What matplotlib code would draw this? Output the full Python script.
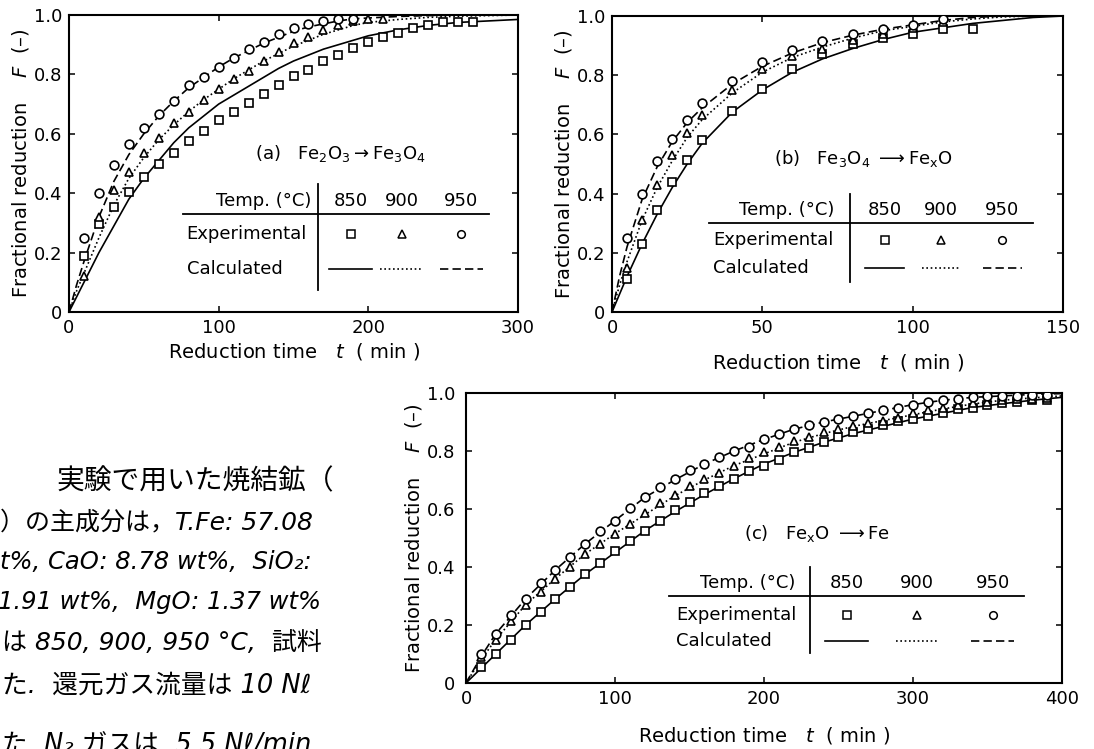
import matplotlib
matplotlib.use("Agg")
import matplotlib.pyplot as plt

plt.rcParams['font.family'] = ['DejaVu Sans']
plt.rcParams['mathtext.fontset'] = 'dejavusans'

TEMPS = ['850', '900', '950']
Y_TICKS = [0, 0.2, 0.4, 0.6, 0.8, 1.0]
Y_LABELS = ['0', '0.2', '0.4', '0.6', '0.8', '1.0']

# (a) Fe2O3 -> Fe3O4, experimental points
a_t_sq = [10, 20, 30, 40, 50, 60, 70, 80, 90, 100, 110, 120, 130, 140, 150, 160, 170, 180,
          190, 200, 210, 220, 230, 240, 250, 260, 270]
a_f_sq = [0.19, 0.295, 0.355, 0.405, 0.455, 0.50, 0.535, 0.575, 0.61, 0.645, 0.675, 0.705,
          0.735, 0.765, 0.795, 0.815, 0.845, 0.865, 0.89, 0.91, 0.925, 0.94, 0.955, 0.965,
          0.975, 0.975, 0.975]
a_t_tri = [10, 20, 30, 40, 50, 60, 70, 80, 90, 100, 110, 120, 130, 140, 150, 160, 170, 180,
           190, 200, 210]
a_f_tri = [0.12, 0.32, 0.41, 0.47, 0.535, 0.585, 0.635, 0.675, 0.715, 0.75, 0.785, 0.81,
           0.845, 0.875, 0.905, 0.925, 0.95, 0.965, 0.98, 0.985, 0.985]
a_t_ci = [10, 20, 30, 40, 50, 60, 70, 80, 90, 100, 110, 120, 130, 140, 150, 160, 170, 180, 190]
a_f_ci = [0.25, 0.40, 0.495, 0.565, 0.62, 0.665, 0.71, 0.765, 0.79, 0.825, 0.855, 0.885,
          0.91, 0.935, 0.955, 0.97, 0.98, 0.985, 0.985]
# (a) calculated curves
a_t_calc = [0, 5, 10, 20, 30, 40, 50, 60, 70, 80, 90, 100, 110, 120, 130, 140, 150, 160,
            170, 180, 190, 200, 220, 240, 260, 280, 300]
a_f_850 = [0, 0.05, 0.10, 0.20, 0.29, 0.38, 0.45, 0.51, 0.57, 0.62, 0.66, 0.70, 0.73, 0.76,
           0.79, 0.82, 0.845, 0.865, 0.885, 0.90, 0.915, 0.93, 0.95, 0.965, 0.975, 0.98, 0.985]
a_f_900 = [0, 0.07, 0.13, 0.25, 0.36, 0.45, 0.52, 0.58, 0.63, 0.675, 0.715, 0.75, 0.785,
           0.815, 0.845, 0.87, 0.895, 0.915, 0.935, 0.95, 0.965, 0.975, 0.985, 0.992, 0.996,
           0.998, 1.0]
a_f_950 = [0, 0.09, 0.17, 0.32, 0.44, 0.53, 0.60, 0.66, 0.71, 0.755, 0.79, 0.825, 0.855,
           0.88, 0.905, 0.925, 0.945, 0.96, 0.97, 0.98, 0.987, 0.99, 0.995, 0.998, 1.0, 1.0, 1.0]

# (b) Fe3O4 -> FexO
b_t_sq = [5, 10, 15, 20, 25, 30, 40, 50, 60, 70, 80, 90, 100, 110, 120]
b_f_sq = [0.11, 0.23, 0.345, 0.44, 0.515, 0.58, 0.68, 0.755, 0.82, 0.87, 0.905, 0.925,
          0.94, 0.955, 0.955]
b_t_tri = [5, 10, 15, 20, 25, 30, 40, 50, 60, 70, 80, 90, 100, 110]
b_f_tri = [0.15, 0.31, 0.43, 0.53, 0.605, 0.665, 0.75, 0.82, 0.865, 0.89, 0.92, 0.94, 0.96, 0.98]
b_t_ci = [5, 10, 15, 20, 25, 30, 40, 50, 60, 70, 80, 90, 100, 110]
b_f_ci = [0.25, 0.40, 0.51, 0.585, 0.65, 0.705, 0.78, 0.845, 0.885, 0.915, 0.94, 0.955,
          0.97, 0.99]
b_t_calc = [0, 2.5, 5, 10, 15, 20, 25, 30, 40, 50, 60, 70, 80, 90, 100, 110, 120, 130, 140, 150]
b_f_850 = [0, 0.06, 0.12, 0.23, 0.33, 0.42, 0.50, 0.57, 0.675, 0.75, 0.81, 0.855, 0.89,
           0.92, 0.945, 0.96, 0.975, 0.985, 0.995, 1.0]
b_f_900 = [0, 0.09, 0.17, 0.31, 0.42, 0.51, 0.59, 0.65, 0.74, 0.81, 0.86, 0.895, 0.925,
           0.95, 0.965, 0.98, 0.99, 0.997, 1.0, 1.0]
b_f_950 = [0, 0.12, 0.22, 0.38, 0.49, 0.575, 0.64, 0.69, 0.77, 0.83, 0.875, 0.91, 0.935,
           0.955, 0.97, 0.985, 0.995, 1.0, 1.0, 1.0]

# (c) FexO -> Fe
c_t_exp = [10, 20, 30, 40, 50, 60, 70, 80, 90, 100, 110, 120, 130, 140, 150, 160, 170, 180,
           190, 200, 210, 220, 230, 240, 250, 260, 270, 280, 290, 300, 310, 320, 330, 340,
           350, 360, 370, 380, 390]
c_f_sq = [0.055, 0.10, 0.15, 0.20, 0.245, 0.29, 0.33, 0.375, 0.415, 0.455, 0.49, 0.525,
          0.56, 0.595, 0.625, 0.655, 0.68, 0.705, 0.73, 0.75, 0.77, 0.795, 0.81, 0.83, 0.85,
          0.865, 0.875, 0.89, 0.905, 0.91, 0.92, 0.93, 0.945, 0.95, 0.96, 0.965, 0.97,
          0.975, 0.975]
c_f_tri = [0.09, 0.15, 0.215, 0.27, 0.315, 0.36, 0.40, 0.445, 0.48, 0.515, 0.55, 0.585,
           0.62, 0.65, 0.68, 0.705, 0.725, 0.75, 0.775, 0.795, 0.815, 0.835, 0.85, 0.865,
           0.875, 0.885, 0.895, 0.905, 0.915, 0.93, 0.94, 0.95, 0.96, 0.965, 0.97, 0.975,
           0.978, 0.98, 0.982]
c_f_ci = [0.10, 0.17, 0.235, 0.29, 0.345, 0.39, 0.435, 0.48, 0.525, 0.56, 0.605, 0.64,
          0.675, 0.705, 0.735, 0.755, 0.78, 0.80, 0.815, 0.84, 0.86, 0.875, 0.89, 0.90,
          0.91, 0.92, 0.93, 0.94, 0.95, 0.96, 0.97, 0.975, 0.98, 0.985, 0.988, 0.99, 0.99,
          0.992, 0.993]
c_t_calc = [0, 10, 20, 40, 60, 80, 100, 120, 140, 160, 180, 200, 220, 240, 260, 280, 300,
            320, 340, 360, 380, 400]
c_f_850 = [0, 0.05, 0.10, 0.20, 0.29, 0.375, 0.45, 0.525, 0.59, 0.65, 0.705, 0.755, 0.795,
           0.83, 0.86, 0.885, 0.91, 0.93, 0.95, 0.963, 0.975, 0.985]
c_f_900 = [0, 0.08, 0.15, 0.27, 0.36, 0.445, 0.515, 0.58, 0.645, 0.70, 0.75, 0.79, 0.83,
           0.86, 0.885, 0.905, 0.925, 0.945, 0.962, 0.975, 0.983, 0.99]
c_f_950 = [0, 0.09, 0.17, 0.29, 0.39, 0.48, 0.56, 0.64, 0.70, 0.755, 0.80, 0.84, 0.875,
           0.90, 0.92, 0.94, 0.96, 0.975, 0.985, 0.99, 0.995, 0.998]

JP_LINES = ['実験で用いた焼結鉱（',
            '）の主成分は，T.Fe: 57.08',
            't%, CaO: 8.78 wt%,  SiO₂:',
            '1.91 wt%,  MgO: 1.37 wt%',
            'は 850, 900, 950 °C,  試料',
            'た.  還元ガス流量は 10 Nℓ',
            'た  N₂ ガスは  5.5 Nℓ/min']

MARKERS = ['s', '^', 'o']
LINES = ['-', (0, (1, 1.6)), (0, (5, 2.5))]

W, H = 1094, 749
fig = plt.figure(figsize=(W / 100, H / 100), dpi=100)


def px_axes(l, t, r, b):
    return fig.add_axes([l / W, 1 - b / H, (r - l) / W, (b - t) / H])


def style_axes(ax, xmax, xstep, labelpad, ypad):
    ax.set_xlim(0, xmax)
    ax.set_ylim(0, 1)
    xt = list(range(0, xmax + 1, xstep))
    ax.set_xticks(xt)
    ax.set_xticklabels([str(v) for v in xt])
    ax.set_yticks(Y_TICKS)
    ax.set_yticklabels(Y_LABELS)
    ax.tick_params(direction='in', length=4, width=1.1, top=True, right=True,
                   labelsize=13, pad=5)
    ax.tick_params(axis='y', pad=ypad)
    for s in ax.spines.values():
        s.set_linewidth(1.5)
    ax.set_xlabel('Reduction time   $t$  ( min )', fontsize=14, labelpad=labelpad)
    ax.set_ylabel('Fractional reduction    $F$  (–)', fontsize=14, labelpad=2)


def plot_panel(ax, exp_t, exp_f, calc_t, calc_f):
    for i in range(3):
        ax.plot(calc_t, calc_f[i], color='k', lw=1.2, ls=LINES[i], zorder=2)
        ax.plot(exp_t[i], exp_f[i], ls='none', marker=MARKERS[i], ms=6.3, mfc='white',
                mec='k', mew=1.2, zorder=3)


def draw_key(ax, title, k):
    tr = ax.transAxes
    ax.text(k['tx'], k['ty'], title, transform=tr, fontsize=13, ha='left', va='center')
    ax.text(k['hdr_x'], k['hdr_y'], 'Temp. (°C)', transform=tr, fontsize=13,
            ha='right', va='center')
    ax.text(k['lab_x'], k['exp_y'], 'Experimental', transform=tr, fontsize=13,
            ha='left', va='center')
    ax.text(k['lab_x'], k['calc_y'], 'Calculated', transform=tr, fontsize=13,
            ha='left', va='center')
    for i, x in enumerate(k['cols']):
        ax.text(x, k['hdr_y'], TEMPS[i], transform=tr, fontsize=13, ha='center', va='center')
        ax.plot([x], [k['exp_y']], transform=tr, ls='none', marker=MARKERS[i], ms=5.5,
                mfc='white', mec='k', mew=1.1)
        ax.plot([x - k['half'], x + k['half']], [k['calc_y'], k['calc_y']], transform=tr,
                color='k', lw=1.2, ls=LINES[i])
    ax.plot([k['vx'], k['vx']], [k['vy0'], k['vy1']], transform=tr, color='k', lw=1.3)
    ax.plot([k['hx0'], k['hx1']], [k['hy'], k['hy']], transform=tr, color='k', lw=1.3)


ax_a = px_axes(69, 15, 518, 312)
plot_panel(ax_a, [a_t_sq, a_t_tri, a_t_ci], [a_f_sq, a_f_tri, a_f_ci],
           a_t_calc, [a_f_850, a_f_900, a_f_950])
style_axes(ax_a, 300, 100, 3, 5)
draw_key(ax_a, '(a)   Fe$_2$O$_3$$\\rightarrow$Fe$_3$O$_4$',
         dict(tx=0.414, ty=0.533, hdr_x=0.539, hdr_y=0.374, lab_x=0.262, exp_y=0.261,
              calc_y=0.145, cols=[0.627, 0.741, 0.874], half=0.048, vx=0.554, vy0=0.074,
              vy1=0.431, hy=0.329, hx0=0.254, hx1=0.935))

ax_b = px_axes(612, 16, 1063, 312)
plot_panel(ax_b, [b_t_sq, b_t_tri, b_t_ci], [b_f_sq, b_f_tri, b_f_ci],
           b_t_calc, [b_f_850, b_f_900, b_f_950])
style_axes(ax_b, 150, 50, 11, 5)
draw_key(ax_b, '(b)   Fe$_3$O$_4$ $\\longrightarrow$Fe$_\\mathrm{x}$O',
         dict(tx=0.359, ty=0.519, hdr_x=0.492, hdr_y=0.344, lab_x=0.225, exp_y=0.242,
              calc_y=0.15, cols=[0.605, 0.73, 0.865], half=0.043, vx=0.527, vy0=0.101,
              vy1=0.40, hy=0.301, hx0=0.215, hx1=0.934))

ax_c = px_axes(466, 393, 1062, 683)
plot_panel(ax_c, [c_t_exp, c_t_exp, c_t_exp], [c_f_sq, c_f_tri, c_f_ci],
           c_t_calc, [c_f_850, c_f_900, c_f_950])
style_axes(ax_c, 400, 100, 12, 8)
draw_key(ax_c, '(c)   Fe$_\\mathrm{x}$O $\\longrightarrow$Fe',
         dict(tx=0.467, ty=0.516, hdr_x=0.552, hdr_y=0.344, lab_x=0.352, exp_y=0.235,
              calc_y=0.146, cols=[0.639, 0.757, 0.884], half=0.036, vx=0.578, vy0=0.103,
              vy1=0.401, hy=0.30, hx0=0.34, hx1=0.937))

# Japanese body text next to panel (c)
jp_pos = [(57, 481), (0, 522), (0, 562), (-2, 602), (2, 643), (2, 686), (2, 745)]
jp_size = [20, 18, 17.5, 17.5, 18, 18.5, 18.5]
for (x, y), size, line in zip(jp_pos, jp_size, JP_LINES):
    fig.text(x / W, 1 - y / H, line, fontsize=size, ha='left', va='center', style='italic',
             family=['DejaVu Sans', 'Noto Sans CJK JP'])

fig.savefig('out.png', dpi=100)
